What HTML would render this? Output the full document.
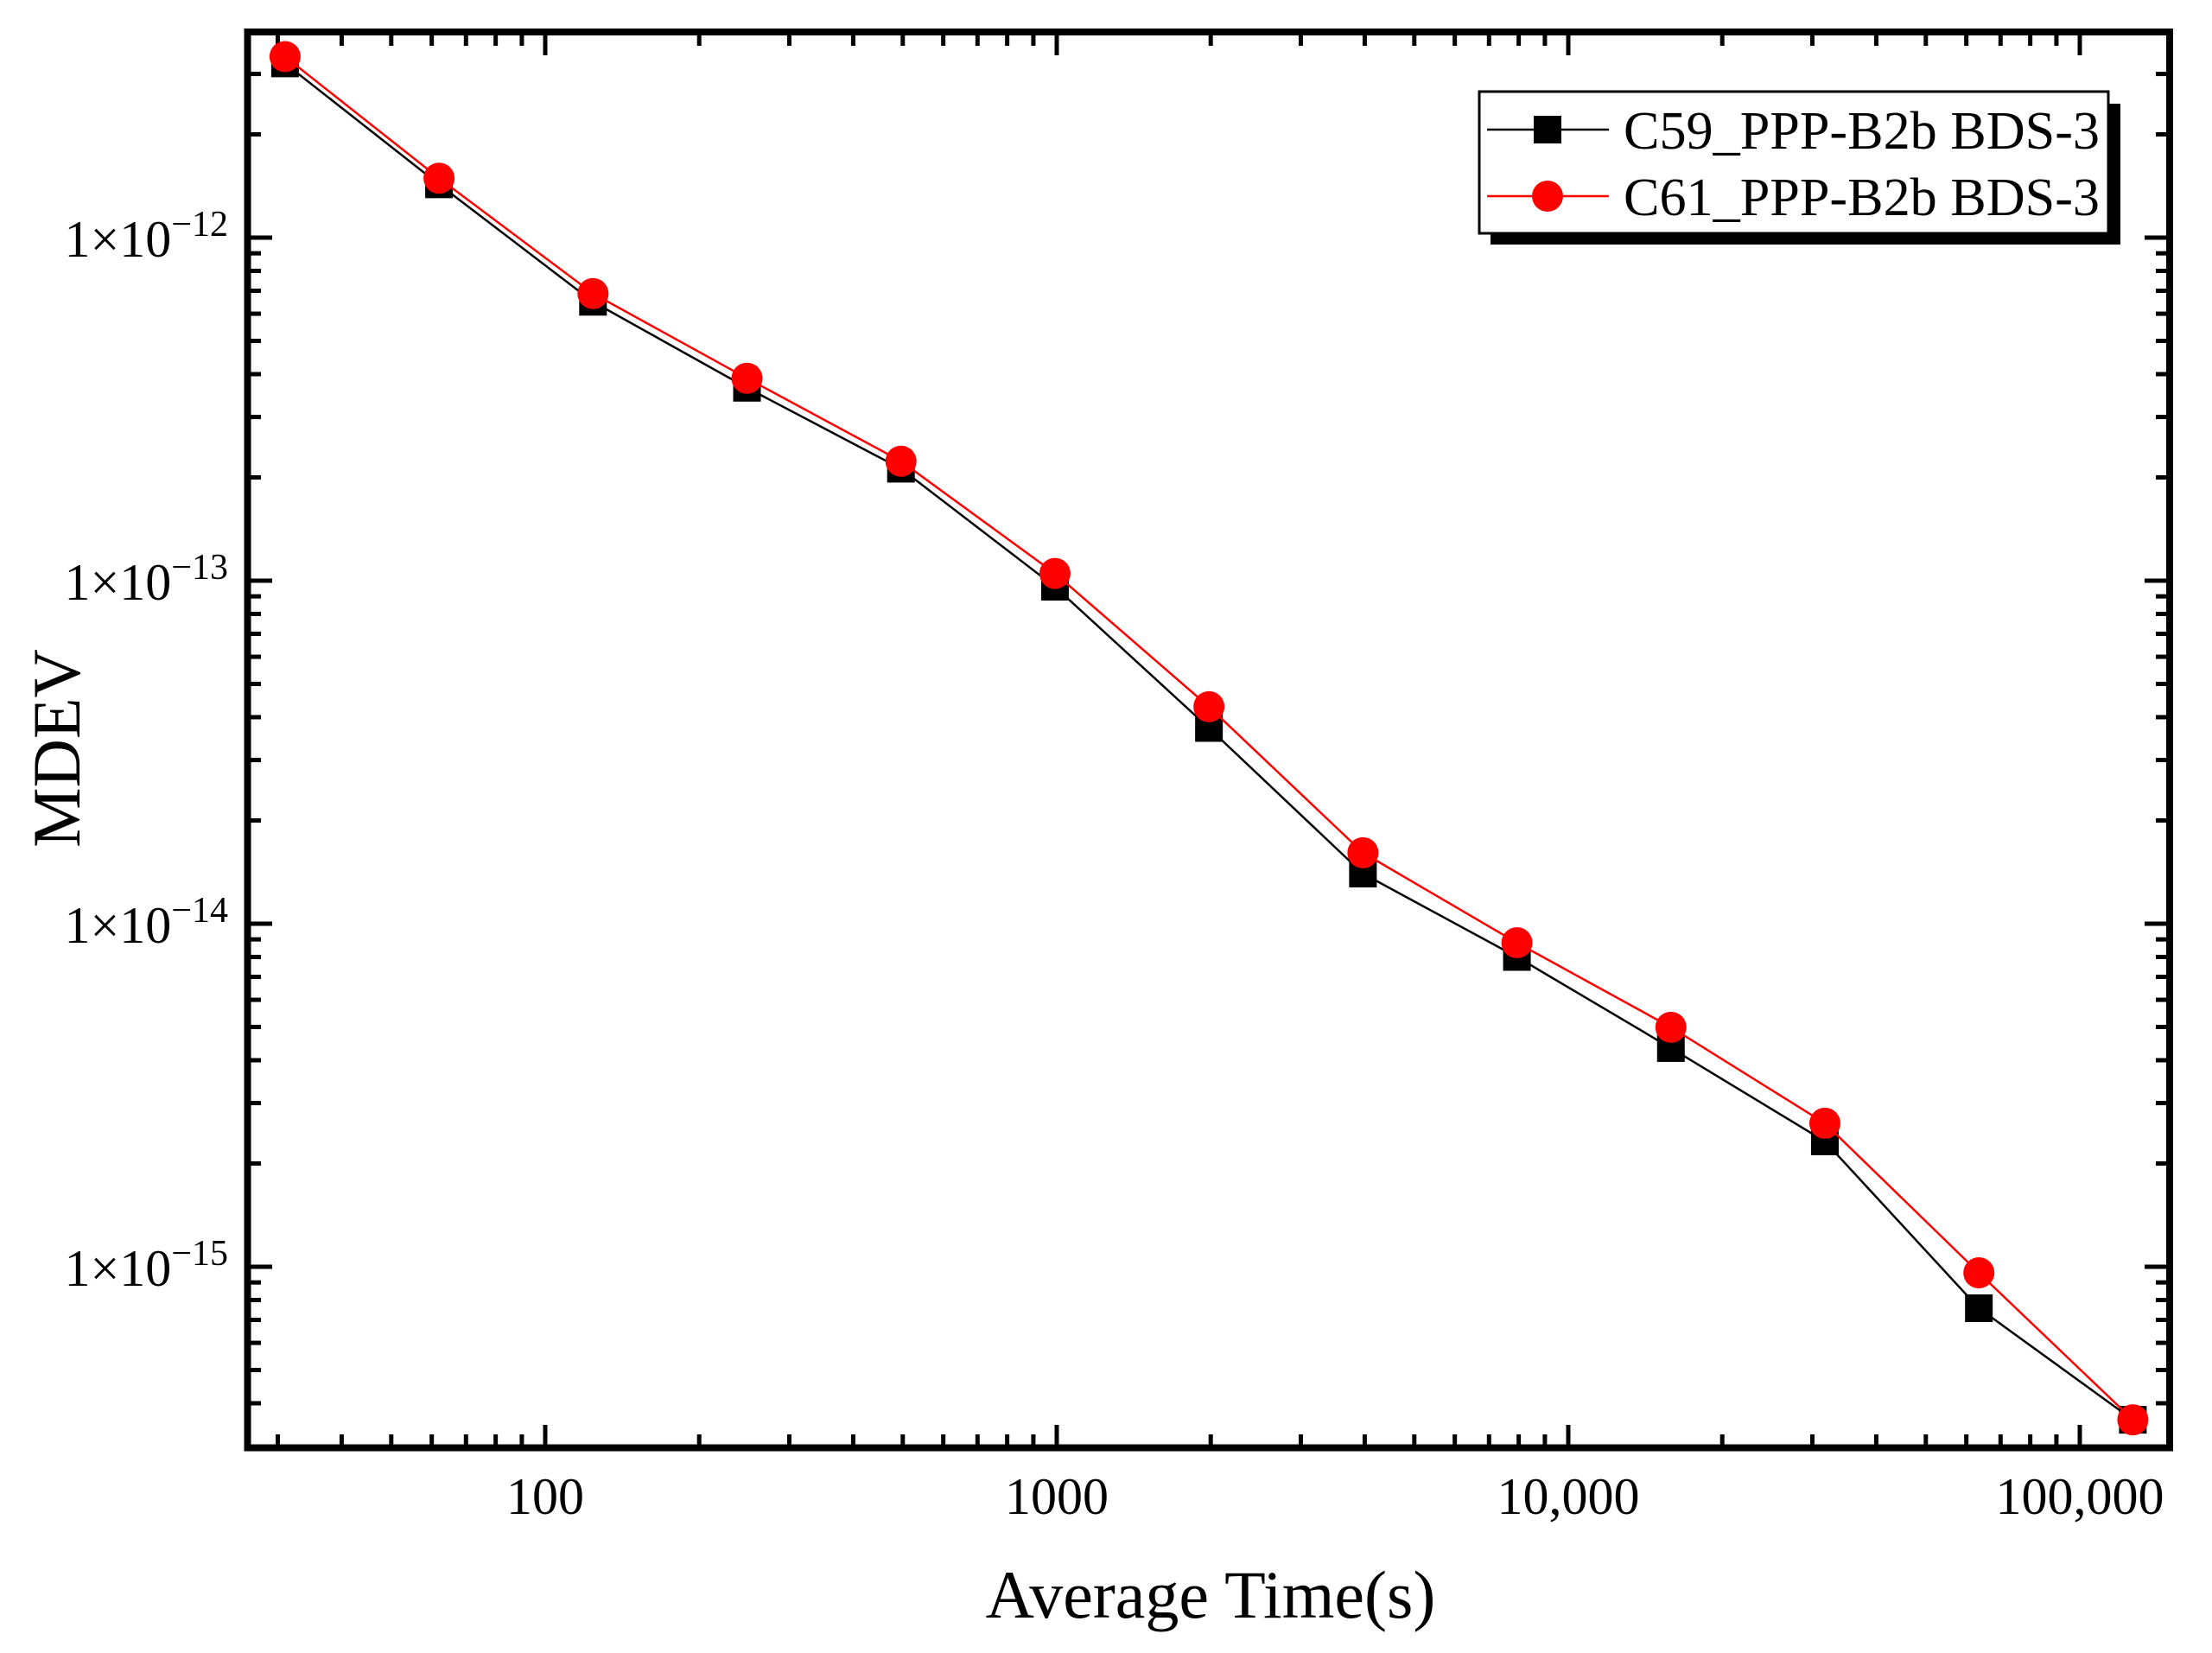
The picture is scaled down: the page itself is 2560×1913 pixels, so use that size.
<!DOCTYPE html>
<html><head><meta charset="utf-8"><style>
html,body{margin:0;padding:0;background:#fff;}
svg{display:block;font-family:"Liberation Serif",serif;}
</style></head><body>
<svg id="chart" width="2560" height="1913" viewBox="0 0 2560 1913" xmlns="http://www.w3.org/2000/svg"></svg>
<script>
const tau = [31, 62, 124, 248, 496, 992, 1984, 3968, 7936, 15872, 31744, 63488, 126976];
const c59 = [3.22e-12, 1.43e-12, 6.5e-13, 3.65e-13, 2.12e-13, 9.6e-14, 3.72e-14, 1.40e-14, 8.0e-15, 4.34e-15, 2.32e-15, 7.57e-16, 3.58e-16];
const c61 = [3.37e-12, 1.49e-12, 6.87e-13, 3.89e-13, 2.23e-13, 1.05e-13, 4.29e-14, 1.61e-14, 8.8e-15, 4.99e-15, 2.62e-15, 9.6e-16, 3.58e-16];
const xTickVals = [100, 1000, 10000, 100000];
const xTickLabels = ["100", "1000", "10,000", "100,000"];
const yTickExps = [-12, -13, -14, -15];

const NS = "http://www.w3.org/2000/svg";
const svg = document.getElementById("chart");
const L = 290, R = 2507, T = 41, B = 1672;
function xs(v){ return 631 + 592 * (Math.log10(v) - 2); }
function ys(v){ return 275 + 397 * (-12 - Math.log10(v)); }
const xMin = Math.pow(10, 2 - (631 - L) / 592), xMax = Math.pow(10, 2 + (R - 631) / 592);
const yMax = Math.pow(10, -12 + (275 - T) / 397), yMin = Math.pow(10, -12 - (B - 275) / 397);
function el(tag, attrs, parent){
  const e = document.createElementNS(NS, tag);
  for (const k in attrs) e.setAttribute(k, attrs[k]);
  (parent || svg).appendChild(e);
  return e;
}
// ticks
const ticks = el("g", {});


for (let d = 1; d <= 5; d++) for (let m = 1; m <= 9; m++) {
  const v = m * Math.pow(10, d);
  if (v < xMin || v > xMax) continue;
  const x = xs(v), len = m === 1 ? 23 : 12;
  el("line", {x1:x, x2:x, y1:B, y2:B-len, stroke:"#000", "stroke-width":5}, ticks);
  el("line", {x1:x, x2:x, y1:T, y2:T+len, stroke:"#000", "stroke-width":5}, ticks);
}
for (let e = -16; e <= -11; e++) for (let m = 1; m <= 9; m++) {
  const v = m * Math.pow(10, e);
  if (v < yMin || v > yMax) continue;
  const y = ys(v), len = m === 1 ? 25 : 12;
  el("line", {x1:L, x2:L+len, y1:y, y2:y, stroke:"#000", "stroke-width":5}, ticks);
  el("line", {x1:R, x2:R-len, y1:y, y2:y, stroke:"#000", "stroke-width":5}, ticks);
}
// frame
const frame = el("rect", {x:286.5, y:37, width:2224.5, height:1638.5, fill:"none", stroke:"#000", "stroke-width":8});


// tick labels
xTickVals.forEach((v, i) => {
  const t = el("text", {x:xs(v), y:1752, "font-size":60, "text-anchor":"middle"});
  
  
  t.textContent = xTickLabels[i];
});
yTickExps.forEach(e => {
  const t = el("text", {x:264, y:ys(Math.pow(10, e)) + 22, "font-size":60, "text-anchor":"end"});
  
  
  t.appendChild(document.createTextNode("1×10"));
  const s = el("tspan", {dy:-24, "font-size":42}, t);
  s.textContent = "−" + Math.abs(e);
});
// axis titles
const xt = el("text", {x:1401, y:1872, "font-size":78, "text-anchor":"middle"});


xt.textContent = "Average Time(s)";
const yt = el("text", {x:0, y:0, "font-size":78, "text-anchor":"middle", transform:"translate(92,866) rotate(-90)"});


yt.textContent = "MDEV";
// series
function series(vals, color, shape, name){
  const g = el("g", {});
  
  
  el("polyline", {points: tau.map((t,i)=>xs(t)+","+ys(vals[i])).join(" "), fill:"none", stroke:color, "stroke-width":2.5}, g);
  tau.forEach((t, i) => {
    let m;
    if (shape === "square") m = el("rect", {x:xs(t)-16, y:ys(vals[i])-16, width:32, height:32, fill:color}, g);
    else m = el("circle", {cx:xs(t), cy:ys(vals[i]), r:18, fill:color}, g);
    
    
  });
}
series(c59, "#000", "square", "series-c59");
series(c61, "#ff0000", "circle", "series-c61");
// legend
const lg = el("g", {});


el("rect", {x:1725, y:120, width:729, height:163, fill:"#000"}, lg);
el("rect", {x:1712, y:106, width:728, height:164, fill:"#fff", stroke:"#000", "stroke-width":3}, lg);
const entries = [["C59_PPP-B2b BDS-3", "#000", "square", 150], ["C61_PPP-B2b BDS-3", "#ff0000", "circle", 227]];
entries.forEach(([label, color, shape, y]) => {
  const g = el("g", {}, lg);
  
  
  el("line", {x1:1721, x2:1862, y1:y, y2:y, stroke:color, "stroke-width":2.5}, g);
  if (shape === "square") el("rect", {x:1775, y:y-16, width:32, height:32, fill:color}, g);
  else el("circle", {cx:1791, cy:y, r:18, fill:color}, g);
  const t = el("text", {x:1879, y:y+22, "font-size":62, textLength:551, lengthAdjust:"spacingAndGlyphs"}, g);
  t.textContent = label;
});
</script>
</body></html>
